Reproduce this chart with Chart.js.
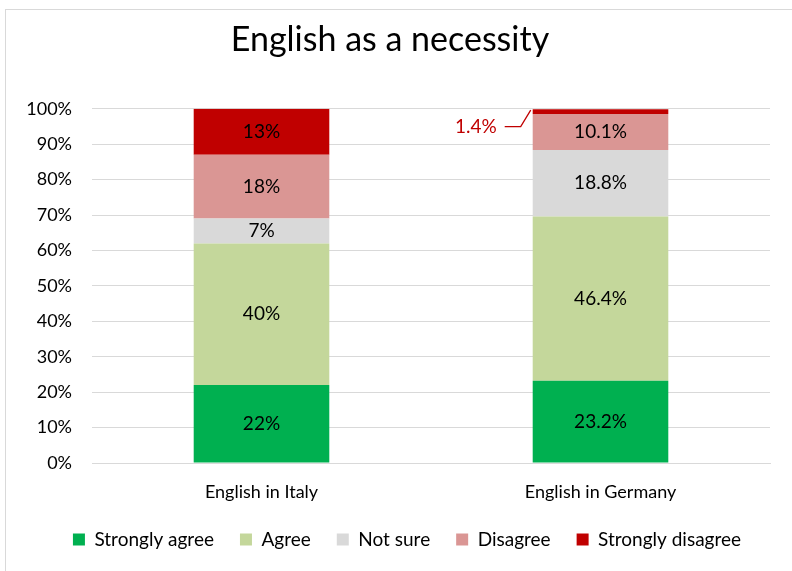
<!DOCTYPE html>
<html>
<head>
<meta charset="utf-8">
<script src="https://cdn.jsdelivr.net/npm/chart.js@4"></script>
<style>
  html, body { margin: 0; padding: 0; background: #fff; }
  #wrap { width: 792px; height: 571px; }
</style>
</head>
<body>
<div id="wrap"><canvas id="chart" width="792" height="571"></canvas></div>
<script>
const categories = ['English in Italy', 'English in Germany'];
const stronglyAgree = [22, 23.2];
const agree = [40, 46.4];
const notSure = [7, 18.8];
const disagree = [18, 10.1];
const stronglyDisagree = [13, 1.4];
const yTicks = [0, 10, 20, 30, 40, 50, 60, 70, 80, 90, 100];

const FONT = 'Lato, "Open Sans", sans-serif';

// label formats: Italy shows whole numbers, Germany one decimal
const decimals = [0, 1];

// outer frame of the chart object
const framePlugin = {
    id: 'frame',
    afterDraw(chart) {
        const ctx = chart.ctx;
        ctx.save();
        ctx.strokeStyle = '#D9D9D9';
        ctx.lineWidth = 1;
        ctx.strokeRect(5.5, 9.5, 900, 700);
        ctx.restore();
    },
};

// nudge the legend row a bit to the right of centre
const legendShift = {
    id: 'legendShift',
    afterLayout(chart) {
        const lg = chart.legend;
        if (!lg) return;
        lg.left += 17;
        lg.right += 17;
    },
};

// value labels inside each segment, small top slice gets a callout
const segLabels = {
    id: 'segLabels',
    afterDatasetsDraw(chart) {
        const ctx = chart.ctx;
        ctx.save();
        ctx.font = '19px ' + FONT;
        ctx.textBaseline = 'middle';
        chart.data.datasets.forEach((ds, di) => {
            const meta = chart.getDatasetMeta(di);
            meta.data.forEach((bar, i) => {
                const v = ds.data[i];
                const txt = v.toFixed(decimals[i]) + '%';
                const cy = (bar.y + bar.base) / 2;
                if (v < 3) {
                    const left = bar.x - bar.width / 2;
                    ctx.strokeStyle = '#C00000';
                    ctx.lineWidth = 1.3;
                    ctx.beginPath();
                    ctx.moveTo(left - 2, bar.y + 1);
                    ctx.lineTo(left - 12, cy + 15);
                    ctx.lineTo(left - 28, cy + 15);
                    ctx.stroke();
                    ctx.fillStyle = '#C00000';
                    ctx.textAlign = 'right';
                    ctx.fillText(txt, left - 36, cy + 15);
                } else {
                    ctx.fillStyle = '#000';
                    ctx.textAlign = 'center';
                    ctx.fillText(txt, bar.x, cy);
                }
            });
        });
        ctx.restore();
    },
};

new Chart(document.getElementById('chart'), {
    type: 'bar',
    data: {
        labels: categories,
        datasets: [
            { label: 'Strongly agree', data: stronglyAgree, backgroundColor: '#00B050' },
            { label: 'Agree', data: agree, backgroundColor: '#C4D79B' },
            { label: 'Not sure', data: notSure, backgroundColor: '#D9D9D9' },
            { label: 'Disagree', data: disagree, backgroundColor: '#DA9694' },
            { label: 'Strongly disagree', data: stronglyDisagree, backgroundColor: '#C00000' },
        ],
    },
    options: {
        responsive: false,
        animation: false,
        devicePixelRatio: 1,
        categoryPercentage: 0.8,
        barPercentage: 0.5,
        layout: { padding: { left: 10, right: 22, top: 0, bottom: 12 } },
        plugins: {
            title: {
                display: true,
                text: 'English as a necessity',
                color: '#000',
                font: { family: FONT, size: 34, weight: 'normal' },
                padding: { top: 20, bottom: 48 },
            },
            legend: {
                position: 'bottom',
                labels: {
                    color: '#000',
                    font: { family: FONT, size: 19 },
                    boxWidth: 12,
                    boxHeight: 12,
                    padding: 26,
                },
            },
            tooltip: { enabled: false },
        },
        scales: {
            x: {
                stacked: true,
                grid: { display: false },
                border: { color: '#D9D9D9' },
                ticks: { color: '#000', font: { family: FONT, size: 18 }, padding: 10 },
                afterFit(scale) { scale.height = 41; },
            },
            y: {
                stacked: true,
                min: 0,
                max: 100,
                afterBuildTicks(scale) { scale.ticks = yTicks.map(v => ({ value: v })); },
                grid: { color: '#D9D9D9', drawTicks: false },
                border: { display: false },
                ticks: {
                    color: '#000',
                    font: { family: FONT, size: 18 },
                    padding: 20,
                    callback: v => v + '%',
                },
                afterFit(scale) { scale.width = 82; },
            },
        },
    },
    plugins: [segLabels, legendShift, framePlugin],
});
</script>
</body>
</html>
